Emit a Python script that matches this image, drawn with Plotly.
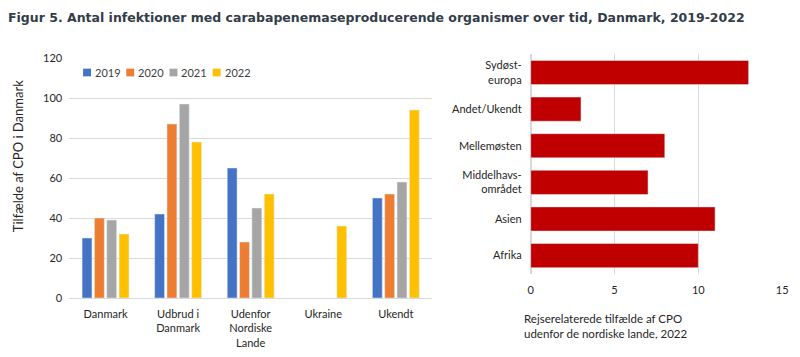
import plotly.graph_objects as go

categories = ["Danmark", "Udbrud i<br>Danmark", "Udenfor<br>Nordiske<br>Lande", "Ukraine", "Ukendt"]
years = ["2019", "2020", "2021", "2022"]
v2019 = [30, 42, 65, None, 50]
v2020 = [40, 87, 28, None, 52]
v2021 = [39, 97, 45, None, 58]
v2022 = [32, 78, 52, 36, 94]
year_colors = ["#4472C4", "#ED7D31", "#A5A5A5", "#FFC000"]

regions = ["Afrika", "Asien", "Middelhavs-<br>området", "Mellemøsten", "Andet/Ukendt", "Sydøst-<br>europa"]
region_values = [10, 11, 7, 8, 3, 13]

W, H = 800, 357
def px(x): return x / W
def py(y): return 1 - y / H

FONT = "Lato"
TXT = "#262626"

fig = go.Figure()
for name, vals, col in zip(years, [v2019, v2020, v2021, v2022], year_colors):
    fig.add_trace(go.Bar(x=categories, y=vals, name=name, marker_color=col,
                         xaxis="x", yaxis="y", showlegend=False))

fig.add_trace(go.Bar(x=region_values, y=regions, orientation="h", marker_color="#C00000",
                     xaxis="x2", yaxis="y2", showlegend=False, width=0.66))

fig.update_layout(
    width=W, height=H,
    margin=dict(l=0, r=0, t=0, b=0),
    paper_bgcolor="white", plot_bgcolor="white",
    font=dict(family=FONT, size=11, color=TXT),
    barmode="group", bargap=0.32, bargroupgap=0.2,
    showlegend=False,
    xaxis=dict(domain=[px(67), px(434)], anchor="y", showgrid=False, ticks="",
               showline=False, tickfont=dict(size=11, color=TXT), ticklabelstandoff=8),
    yaxis=dict(domain=[py(302), py(53)], anchor="x", range=[0, 120], dtick=20,
               showgrid=True, gridcolor="#D9D9D9", gridwidth=1, zeroline=True,
               zerolinecolor="#D9D9D9", zerolinewidth=1, ticks="",
               tickfont=dict(size=11, color=TXT), ticklabelstandoff=6),
    xaxis2=dict(domain=[px(533.7), px(788)], anchor="y2", range=[0, 15], dtick=5,
                showgrid=True, gridcolor="#D9D9D9", zeroline=True, zerolinecolor="#D9D9D9",
                ticks="", tickfont=dict(size=11, color=TXT), ticklabelstandoff=8),
    yaxis2=dict(domain=[py(277), py(49)], anchor="x2", showgrid=False, ticks="",
                tickfont=dict(size=11, color=TXT), ticklabelstandoff=8),
)

# legend (square swatches + labels)
for i, (name, col) in enumerate(zip(years, year_colors)):
    x0 = 81 + i * 43.7
    fig.add_shape(type="rect", xref="paper", yref="paper",
                  x0=px(x0), x1=px(x0 + 8), y0=py(72), y1=py(64),
                  fillcolor=col, line=dict(width=0))
    fig.add_annotation(text=name, xref="paper", yref="paper", x=px(x0 + 10), y=py(68),
                       xanchor="left", yanchor="middle", showarrow=False,
                       font=dict(size=11, color="#404040"))

fig.add_annotation(text="<b>Figur 5. Antal infektioner med carabapenemaseproducerende organismer over tid, Danmark, 2019-2022</b>",
                   xref="paper", yref="paper", x=px(3), y=py(11), xanchor="left", yanchor="middle",
                   showarrow=False, font=dict(family="DejaVu Sans", size=12.5, color="#333D4A"))
fig.add_annotation(text="Tilfælde af CPO i Danmark", textangle=-90,
                   xref="paper", yref="paper", x=px(16), y=py(155), xanchor="center", yanchor="middle",
                   showarrow=False, font=dict(size=13, color=TXT))
fig.add_annotation(text="Rejserelaterede tilfælde af CPO<br>udenfor de nordiske lande, 2022",
                   xref="paper", yref="paper", x=px(525), y=py(331), xanchor="left", yanchor="middle",
                   align="left", showarrow=False, font=dict(size=11.5, color=TXT))

fig.write_html("out.html", config={"displayModeBar": False},
               post_script="document.body.style.margin='0';")
